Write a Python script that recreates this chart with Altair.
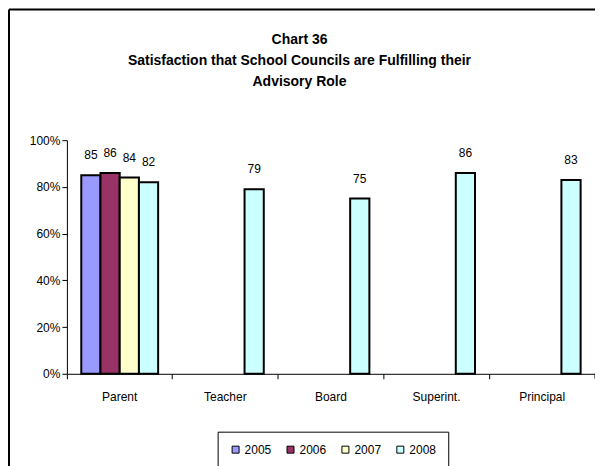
import altair as alt
import pandas as pd

categories = ["Parent", "Teacher", "Board", "Superint.", "Principal"]
years = ["2005", "2006", "2007", "2008"]
colors = ["#9999FF", "#993366", "#FFFFCC", "#CCFFFF"]

parent_vals = [85, 86, 84, 82]
y2008_others = {"Teacher": 79, "Board": 75, "Superint.": 86, "Principal": 83}

title_lines = ["Chart 36", "Satisfaction that School Councils are Fulfilling their", "Advisory Role"]

rows = []
for yr, v in zip(years, parent_vals):
    rows.append({"cat": "Parent", "year": yr, "value": v})
for c, v in y2008_others.items():
    rows.append({"cat": c, "year": "2008", "value": v})
df = pd.DataFrame(rows)
one = pd.DataFrame({"k": [0]})

W, H = 529, 234
FONT = "Liberation Sans"

x = alt.X("cat:N", sort=categories, scale=alt.Scale(domain=categories, paddingInner=0, paddingOuter=0),
          axis=alt.Axis(title=None, labelAngle=0, bandPosition=0, tickSize=5, labelPadding=13,
                        labelFontSize=12, labelFont=FONT, labelColor="black",
                        domainColor="black", tickColor="black"))
xo = alt.XOffset("year:N", scale=alt.Scale(domain=years, paddingInner=0, paddingOuter=0.748))
y = alt.Y("value:Q", scale=alt.Scale(domain=[0, 100]),
          axis=alt.Axis(title=None, values=[0, 20, 40, 60, 80, 100], labelExpr="datum.value + '%'",
                        grid=False, tickSize=5, labelPadding=2, labelFontSize=12, labelFont=FONT,
                        labelColor="black", domainColor="black", tickColor="black"))

bars = alt.Chart(df).mark_bar(stroke="black", strokeWidth=2).encode(
    x=x, xOffset=xo, y=y,
    color=alt.Color("year:N", scale=alt.Scale(domain=years, range=colors),
                    legend=alt.Legend(title=None, orient="none", legendX=151, legendY=292,
                                      direction="horizontal", columns=4, symbolType="square",
                                      symbolSize=49, symbolStrokeColor="black", symbolStrokeWidth=1,
                                      labelFontSize=12, labelFont=FONT, labelColor="black",
                                      columnPadding=13, labelOffset=3,
                                      padding=12, fillColor="white", strokeColor="black")),
)

labels = alt.Chart(df).mark_text(baseline="middle", dy=-20, fontSize=12, font=FONT, color="black").encode(
    x=alt.X("cat:N", sort=categories), xOffset="year:N", y="value:Q", text="value:Q"
)

end_tick = alt.Chart(one).mark_rule(color="black").encode(
    x=alt.value(W), y=alt.value(H), y2=alt.value(H + 5)
)
border_top = alt.Chart(one).mark_rule(color="black", strokeWidth=2).encode(
    x=alt.value(-58), x2=alt.value(700), y=alt.value(-131)
)
border_left = alt.Chart(one).mark_rule(color="black", strokeWidth=2).encode(
    x=alt.value(-58), y=alt.value(-131), y2=alt.value(500)
)

title_layers = []
for i, line in enumerate(title_lines):
    title_layers.append(
        alt.Chart(one).mark_text(fontSize=14, font=FONT, fontWeight="bold", color="black",
                                 baseline="middle", align="center").encode(
            x=alt.value(233), y=alt.value(-100 + 21 * i), text=alt.value(line)
        )
    )

chart = alt.layer(bars, labels, end_tick, border_top, border_left, *title_layers).properties(
    width=W, height=H,
    padding={"left": 59, "top": 132, "right": 0, "bottom": 110},
    autosize=alt.AutoSizeParams(type="none"),
).configure_view(stroke=None)

chart.save("out.html", embed_options={"renderer": "svg", "actions": False})
